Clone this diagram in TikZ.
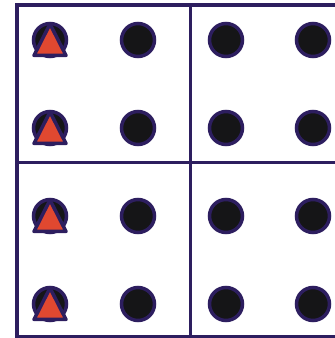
\documentclass[tikz,border=0pt]{standalone}
\usetikzlibrary{calc}
\definecolor{ink}{RGB}{45,30,95}
\definecolor{coal}{RGB}{21,21,23}
\definecolor{brick}{RGB}{224,72,48}

\begin{document}
\begin{tikzpicture}[x=1pt,y=1pt,
    gridline/.style={draw=ink,line width=3.2pt},
    dot/.style={circle,draw=ink,fill=coal,line width=3.5pt,minimum size=33pt,inner sep=0pt},
    flag/.style={draw=ink,fill=brick,line width=3.5pt,line join=round}]
  \useasboundingbox (0,0) rectangle (335,338);
  % grid
  \draw[gridline] (340,333) -| (17,1.5) -- (340,1.5);
  \draw[gridline] (17,175.5) -- (340,175.5);
  \draw[gridline] (190.5,333) -- (190.5,1.5);
  % dots
  \foreach \x [count=\i] in {50,138,226,313}
    \foreach \y [count=\j] in {298,210,122,34}
      \node[dot] (d\i\j) at (\x,\y) {};
  % triangles on the first column
  \foreach \j in {1,...,4}
    \draw[flag] ($(d1\j.center)+(0,16)$) -- ($(d1\j.center)+(-16,-15.5)$)
      -- ($(d1\j.center)+(16,-15.5)$) -- cycle;
\end{tikzpicture}
\end{document}
